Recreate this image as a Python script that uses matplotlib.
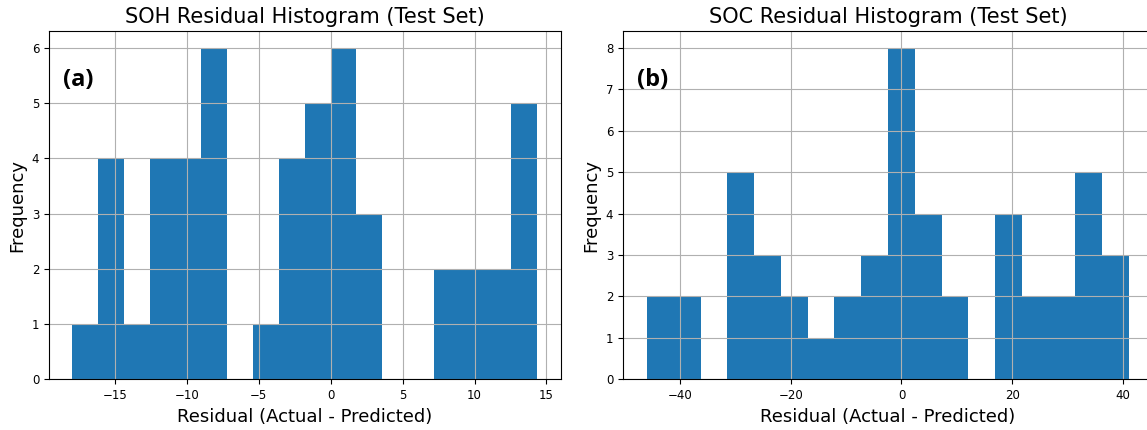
import numpy as np
import matplotlib
matplotlib.use("Agg")
import matplotlib.pyplot as plt

# histogram counts (18 bins each)
soh_counts = [1, 4, 1, 4, 4, 6, 0, 1, 4, 5, 6, 3, 0, 0, 2, 2, 2, 5]
soh_range = (-17.95, 14.36)
soc_counts = [2, 2, 0, 5, 3, 2, 1, 2, 3, 8, 4, 2, 0, 4, 2, 2, 5, 3]
soc_range = (-45.9, 41.05)

fig = plt.figure(figsize=(11.47, 4.3), dpi=100)
ax1 = fig.add_axes([0.0427, 0.118, 0.446, 0.809])
ax2 = fig.add_axes([0.5432, 0.118, 0.462, 0.809])

panels = [
    (ax1, soh_counts, soh_range, 'SOH Residual Histogram (Test Set)', '(a)'),
    (ax2, soc_counts, soc_range, 'SOC Residual Histogram (Test Set)', '(b)'),
]

for ax, counts, rng, title, tag in panels:
    edges = np.linspace(rng[0], rng[1], len(counts) + 1)
    centers = (edges[:-1] + edges[1:]) / 2
    ax.hist(centers, bins=edges, weights=counts, color='#1f77b4')
    ax.grid(True)
    ax.set_title(title, fontsize=15)
    ax.set_xlabel('Residual (Actual - Predicted)', fontsize=13)
    ax.set_ylabel('Frequency', fontsize=13)
    ax.tick_params(labelsize=8.5)
    ax.text(0.027, 0.895, tag, transform=ax.transAxes, ha='left', va='top',
            fontsize=17, fontweight='bold', family='Open Sans')

plt.savefig('out.png', dpi=100)
